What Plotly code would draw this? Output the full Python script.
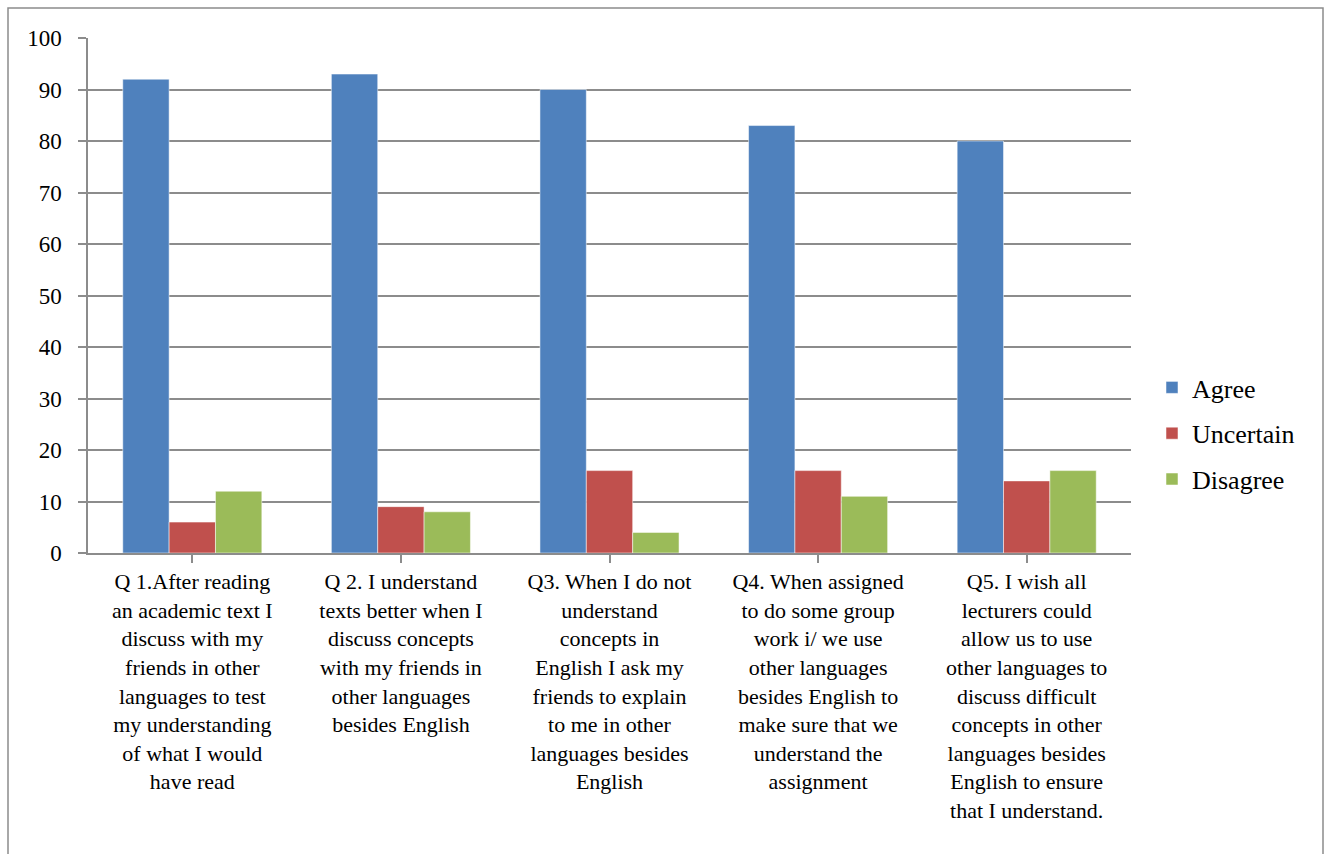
import plotly.graph_objects as go

categories = [
    "Q 1.After reading<br>an academic text I<br>discuss with my<br>friends in other<br>languages to test<br>my understanding<br>of what I would<br>have read",
    "Q 2. I understand<br>texts better when I<br>discuss concepts<br>with my friends in<br>other languages<br>besides English",
    "Q3. When I do not<br>understand<br>concepts in<br>English I ask my<br>friends to explain<br>to me in other<br>languages besides<br>English",
    "Q4. When assigned<br>to do some group<br>work i/ we use<br>other languages<br>besides English to<br>make sure that we<br>understand the<br>assignment",
    "Q5. I wish all<br>lecturers could<br>allow us to use<br>other languages to<br>discuss difficult<br>concepts in other<br>languages besides<br>English to ensure<br>that I understand.",
]
agree = [92, 93, 90, 83, 80]
uncertain = [6, 9, 16, 16, 14]
disagree = [12, 8, 4, 11, 16]

series = [("Agree", agree, "#4F81BD"), ("Uncertain", uncertain, "#C0504D"), ("Disagree", disagree, "#9BBB59")]

FONT = "Liberation Serif, Times New Roman, serif"
fig = go.Figure()
for i, (name, vals, col) in enumerate(series):
    fig.add_trace(go.Bar(
        x=list(range(len(categories))), y=vals, name=name,
        marker=dict(color=col, line=dict(color="rgba(255,255,255,0.5)", width=1)),
        legendgroup=name,
    ))

W, H = 1331, 854
L, R, T, B = 88, 1131, 38, 553
pw, ph = R - L, B - T

fig.update_layout(
    width=W, height=H,
    margin=dict(l=L, r=W - R, t=T, b=H - B, autoexpand=False),
    paper_bgcolor="white", plot_bgcolor="white",
    barmode="group", bargap=1.5 / 4.5, bargroupgap=0,
    font=dict(family=FONT, size=22, color="black"),
    legend=dict(x=(1152 - L) / pw, y=1 - (364 - T) / ph, xanchor="left", yanchor="top",
                font=dict(family=FONT, size=26), traceorder="grouped", tracegroupgap=9,
                itemwidth=30),
    showlegend=True,
)
fig.update_yaxes(range=[0, 100], dtick=10, showgrid=True, gridcolor="#8c8c8c", gridwidth=1.5,
                 showline=True, linecolor="#8c8c8c", linewidth=1.5, ticks="outside", ticklen=8,
                 tickcolor="#8c8c8c", tickwidth=1.5, tickfont=dict(family=FONT, size=23),
                 ticklabelstandoff=12, zeroline=False)
fig.update_xaxes(tickmode="array", tickvals=list(range(len(categories))), ticktext=categories,
                 range=[-0.5, len(categories) - 0.5], showgrid=False, showline=True,
                 linecolor="#8c8c8c", linewidth=1.5, ticks="outside", tickson="boundaries",
                 ticklen=8, tickcolor="#8c8c8c", tickwidth=1.5, tickangle=0,
                 tickfont=dict(family=FONT, size=22))

# outer chart border
fig.add_shape(type="rect", xref="paper", yref="paper",
              x0=(8 - L) / pw, x1=(1323 - L) / pw, y0=-(H + 20 - B) / ph, y1=1 + (T - 8) / ph,
              line=dict(color="#8c8c8c", width=1.5), fillcolor="rgba(0,0,0,0)", layer="below")

fig.write_html("out.html")
